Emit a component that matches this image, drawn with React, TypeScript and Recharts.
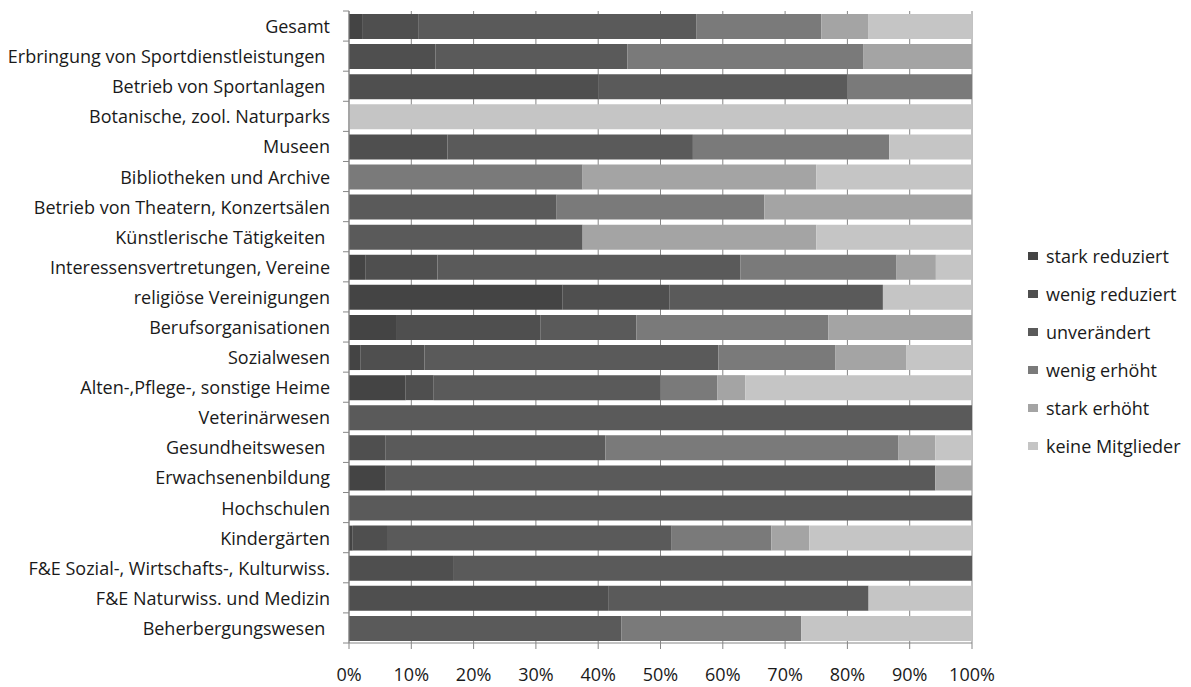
import { BarChart, Bar, XAxis, YAxis, CartesianGrid, Legend } from "recharts";

const categories = [
  "Gesamt",
  "Erbringung von Sportdienstleistungen ",
  "Betrieb von Sportanlagen ",
  "Botanische, zool. Naturparks",
  "Museen",
  "Bibliotheken und Archive",
  "Betrieb von Theatern, Konzertsälen",
  "Künstlerische Tätigkeiten ",
  "Interessensvertretungen, Vereine",
  "religiöse Vereinigungen",
  "Berufsorganisationen",
  "Sozialwesen",
  "Alten-,Pflege-, sonstige Heime",
  "Veterinärwesen",
  "Gesundheitswesen ",
  "Erwachsenenbildung",
  "Hochschulen",
  "Kindergärten",
  "F&E Sozial-, Wirtschafts-, Kulturwiss.",
  "F&E Naturwiss. und Medizin",
  "Beherbergungswesen ",
];

const starkReduziert = [2.1, 0, 0, 0, 0, 0, 0, 0, 2.6, 34.3, 7.7, 1.8, 9.1, 0, 0, 5.9, 0, 0.6, 0, 0, 0];
const wenigReduziert = [9.0, 13.9, 40, 0, 15.8, 0, 0, 0, 11.6, 17.1, 23.1, 10.3, 4.5, 0, 5.9, 0, 0, 5.5, 16.7, 41.7, 0];
const unveraendert = [44.7, 30.8, 40, 0, 39.4, 0, 33.3, 37.5, 48.6, 34.3, 15.4, 47.2, 36.4, 100, 35.3, 88.2, 100, 45.7, 83.3, 41.7, 43.7];
const wenigErhoeht = [20.0, 37.9, 20, 0, 31.5, 37.5, 33.3, 0, 25.1, 0, 30.8, 18.8, 9.1, 0, 47.1, 0, 0, 16.0, 0, 0, 28.9];
const starkErhoeht = [7.6, 17.4, 0, 0, 0, 37.5, 33.3, 37.5, 6.3, 0, 23.1, 11.4, 4.5, 0, 5.9, 5.9, 0, 6.1, 0, 0, 0];
const keineMitglieder = [16.6, 0, 0, 100, 13.3, 25, 0, 25, 5.8, 14.3, 0, 10.5, 36.4, 0, 5.9, 0, 0, 26.1, 0, 16.6, 27.4];

const xTicks = [0, 0.1, 0.2, 0.3, 0.4, 0.5, 0.6, 0.7, 0.8, 0.9, 1];

const series = [
  { key: "stark reduziert", values: starkReduziert, color: "#444444" },
  { key: "wenig reduziert", values: wenigReduziert, color: "#4f4f4f" },
  { key: "unverändert", values: unveraendert, color: "#5a5a5a" },
  { key: "wenig erhöht", values: wenigErhoeht, color: "#7a7a7a" },
  { key: "stark erhöht", values: starkErhoeht, color: "#a4a4a4" },
  { key: "keine Mitglieder", values: keineMitglieder, color: "#c5c5c5" },
];

const data = categories.map((name, i) => {
  const row: Record<string, string | number> = { name };
  series.forEach((s) => {
    row[s.key] = s.values[i];
  });
  return row;
});

const FONT = "'Open Sans', sans-serif";
const FS = 18;
const AXIS = "#868686";
const TOP = 11;
const BOTTOM_AXIS = 44;
const HEIGHT = 687;
const BAND = (HEIGHT - TOP - BOTTOM_AXIS) / categories.length;

const CategoryTick = (props: any) => {
  const { y, payload, index } = props;
  const half = BAND / 2;
  return (
    <g>
      <text
        x={330}
        y={y}
        textAnchor="end"
        dominantBaseline="central"
        fontSize={FS}
        fontFamily={FONT}
        fill="#1a1a1a"
        style={{ whiteSpace: "pre" }}
      >
        {payload.value}
      </text>
      <line x1={343} x2={349} y1={y - half} y2={y - half} stroke={AXIS} />
      {index === categories.length - 1 && (
        <line x1={343} x2={349} y1={y + half} y2={y + half} stroke={AXIS} />
      )}
    </g>
  );
};

const LegendContent = () => (
  <div style={{ fontFamily: FONT, fontSize: FS, color: "#1a1a1a", whiteSpace: "nowrap" }}>
    {series.map((s) => (
      <div key={s.key} style={{ height: 38, display: "flex", alignItems: "center" }}>
        <span
          style={{
            display: "inline-block",
            flexShrink: 0,
            width: 10,
            height: 8,
            background: s.color,
            marginRight: 8,
          }}
        />
        {s.key}
      </div>
    ))}
  </div>
);

export default function App() {
  return (
    <div style={{ position: "absolute", left: 0, top: 0, background: "#fff" }}>
      <BarChart
        width={1191}
        height={HEIGHT}
        data={data}
        layout="vertical"
        stackOffset="expand"
        barSize={25}
        margin={{ top: TOP, right: 219, bottom: 0, left: 0 }}
      >
        <CartesianGrid horizontal={false} stroke={AXIS} />
        <XAxis
          type="number"
          domain={[0, 1]}
          ticks={xTicks}
          tickFormatter={(v) => `${Math.round(v * 100)}%`}
          height={BOTTOM_AXIS}
          tickSize={6}
          tickMargin={19}
          axisLine={{ stroke: AXIS }}
          tickLine={{ stroke: AXIS }}
          tick={{ fontSize: FS, fontFamily: FONT, fill: "#1a1a1a" }}
          interval={0}
        />
        <YAxis
          type="category"
          dataKey="name"
          width={349}
          interval={0}
          tickLine={false}
          axisLine={{ stroke: AXIS }}
          tick={<CategoryTick />}
        />
        <Legend
          layout="vertical"
          align="right"
          verticalAlign="top"
          content={<LegendContent />}
          wrapperStyle={{ left: 1028, top: 237, width: 0, height: 0 }}
        />
        {series.map((s) => (
          <Bar
            key={s.key}
            dataKey={s.key}
            stackId="a"
            fill={s.color}
            isAnimationActive={false}
          />
        ))}
      </BarChart>
    </div>
  );
}
